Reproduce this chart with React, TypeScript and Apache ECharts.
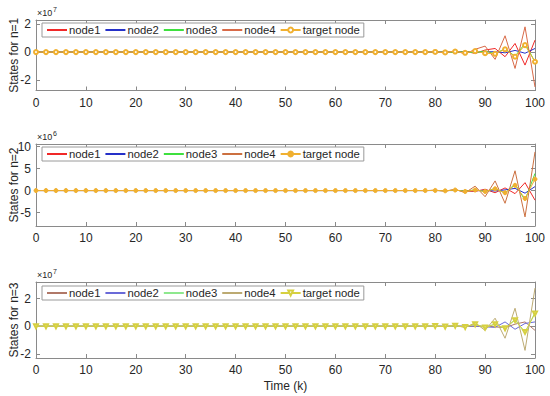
import React, { useEffect, useRef } from "react";
import * as echarts from "echarts";

// time steps k = 0, 2, ..., 100
const K = [
  0, 2, 4, 6, 8, 10, 12, 14, 16, 18, 20, 22, 24, 26, 28, 30, 32, 34, 36, 38,
  40, 42, 44, 46, 48, 50, 52, 54, 56, 58, 60, 62, 64, 66, 68, 70, 72, 74, 76,
  78, 80, 82, 84, 86, 88, 90, 92, 94, 96, 98, 100,
];

// subplot 1 (x1e7)
const n1_1 = [0,0,0,0,0,0,0,0,0,0, 0,0,0,0,0,0,0,0,0,0, 0,0,0,0,0,0,0,0,0,0, 0,0,0,0,0,0,0,0,
  0, 0.01, -0.02, 0.03, -0.05, 0.07, -0.1, 0.15, 0.26, -0.33, 0.62, -0.93, 0.86];
const n2_1 = [0,0,0,0,0,0,0,0,0,0, 0,0,0,0,0,0,0,0,0,0, 0,0,0,0,0,0,0,0,0,0, 0,0,0,0,0,0,0,0,
  0, 0, 0, 0, 0, 0.01, -0.01, 0.02, 0.03, -0.05, 0.12, -0.08, 0.26];
const n3_1 = [0,0,0,0,0,0,0,0,0,0, 0,0,0,0,0,0,0,0,0,0, 0,0,0,0,0,0,0,0,0,0, 0,0,0,0,0,0,0,0,
  0, 0, 0.01, -0.01, -0.02, 0.03, -0.05, 0.08, -0.12, 0.25, -0.3, 0.62, -0.7];
const n4_1 = [0,0,0,0,0,0,0,0,0,0, 0,0,0,0,0,0,0,0,0,0, 0,0,0,0,0,0,0,0,0,0, 0,0,0,0,0,0,0,0,
  0.01, -0.02, 0.04, -0.07, 0.1, -0.14, 0.2, 0.43, -0.52, 1.17, -1.17, 1.81, -2.5];
const t_1 = [0,0,0,0,0,0,0,0,0,0, 0,0,0,0,0,0,0,0,0,0, 0,0,0,0,0,0,0,0,0,0, 0,0,0,0,0,0,0,0,
  0, 0, 0.01, -0.02, 0.04, -0.05, 0.07, -0.08, -0.12, 0.2, -0.33, 0.5, -0.69];

// subplot 2 (x1e6)
const n1_2 = [0,0,0,0,0,0,0,0,0,0, 0,0,0,0,0,0,0,0,0,0, 0,0,0,0,0,0,0,0,0,0, 0,0,0,0,0,0,0,0,
  0, 0, 0.02, -0.04, 0.08, -0.12, -0.2, 0.3, -0.5, 0.6, -0.7, 1.8, -2.2];
const n2_2 = [0,0,0,0,0,0,0,0,0,0, 0,0,0,0,0,0,0,0,0,0, 0,0,0,0,0,0,0,0,0,0, 0,0,0,0,0,0,0,0,
  0, 0, 0, 0, 0, 0.02, -0.04, 0.06, -0.1, 0.15, 0.5, -0.6, 0.9];
const n3_2 = [0,0,0,0,0,0,0,0,0,0, 0,0,0,0,0,0,0,0,0,0, 0,0,0,0,0,0,0,0,0,0, 0,0,0,0,0,0,0,0,
  0, 0, 0.02, -0.04, 0.08, -0.12, 0.15, -0.25, 0.5, -0.6, 1.5, -2.2, 3.9];
const n4_2 = [0,0,0,0,0,0,0,0,0,0, 0,0,0,0,0,0,0,0,0,0, 0,0,0,0,0,0,0,0,0,0, 0,0,0,0,0,0,0,0,
  0.02, -0.04, 0.1, -0.15, 0.3, -0.5, 1.0, -1.4, 2.2, -2.9, 4.5, -6.0, 8.8];
const t_2 = [0,0,0,0,0,0,0,0,0,0, 0,0,0,0,0,0,0,0,0,0, 0,0,0,0,0,0,0,0,0,0, 0,0,0,0,0,0,0,0,
  0, 0.01, 0.03, -0.06, 0.12, -0.2, 0.12, -0.2, 0.4, -0.5, 1.2, -1.8, 2.6];

// subplot 3 (x1e7)
const n1_3 = [0,0,0,0,0,0,0,0,0,0, 0,0,0,0,0,0,0,0,0,0, 0,0,0,0,0,0,0,0,0,0, 0,0,0,0,0,0,0,0,
  0, 0, 0, 0, 0, 0.01, -0.02, 0.03, -0.05, -0.1, 0.15, 0.31, -0.3];
const n2_3 = [0,0,0,0,0,0,0,0,0,0, 0,0,0,0,0,0,0,0,0,0, 0,0,0,0,0,0,0,0,0,0, 0,0,0,0,0,0,0,0,
  0, 0, 0, 0, 0, 0, 0.02, -0.05, -0.08, 0.31, -0.22, 0.2, 0.31];
const n3_3 = [0,0,0,0,0,0,0,0,0,0, 0,0,0,0,0,0,0,0,0,0, 0,0,0,0,0,0,0,0,0,0, 0,0,0,0,0,0,0,0,
  0, 0, 0.01, -0.02, 0.03, -0.04, 0.15, -0.1, 0.17, -0.18, 0.5, -0.5, 1.0];
const n4_3 = [0,0,0,0,0,0,0,0,0,0, 0,0,0,0,0,0,0,0,0,0, 0,0,0,0,0,0,0,0,0,0, 0,0,0,0,0,0,0,0,
  0, 0, 0.01, -0.03, 0.06, -0.1, 0.24, -0.3, 0.58, -0.87, 1.3, -1.75, 2.76];
const t_3 = [0,0,0,0,0,0,0,0,0,0, 0,0,0,0,0,0,0,0,0,0, 0,0,0,0,0,0,0,0,0,0, 0,0,0,0,0,0,0,0,
  0, 0, 0.01, -0.02, 0.04, -0.05, 0.15, -0.1, 0.15, -0.15, 0.44, -0.41, 0.92];

const SERIES_NAMES = ["node1", "node2", "node3", "node4", "target node"];
const Y_TICKS = [[-2, 0, 2], [-5, 0, 5, 10], [-2, 0, 2]];
const Y_RANGE = [[-2.75, 2.3], [-8.07, 10.6], [-2.3, 3.2]];
const Y_NAMES = ["States for n=1", "States for n=2", "States for n=3"];
const EXPONENTS = ["7", "6", "7"];
const X_NAME = "Time (k)";

const DATA = [
  [n1_1, n2_1, n3_1, n4_1, t_1],
  [n1_2, n2_2, n3_2, n4_2, t_2],
  [n1_3, n2_3, n3_3, n4_3, t_3],
];

const COLORS = [
  ["#f02828", "#2530c8", "#3ee03e", "#d86a48", "#f0b030"],
  ["#f02828", "#2530c8", "#3ee03e", "#cc7040", "#f0b030"],
  ["#b07868", "#6a6ad8", "#8ee88e", "#bcaa72", "#d6d040"],
];
const MARKERS = [
  { symbol: "emptyCircle", size: 4, rotate: 0 },
  { symbol: "circle", size: 4, rotate: 0 },
  { symbol: "emptyTriangle", size: 4, rotate: 180 },
];

const FONT = "'Liberation Sans', Arial, Helvetica, sans-serif";
const TXT = "#262626";
const AX = "#8a8a8a";

const GRIDS = [
  { left: 36, top: 20, width: 499, height: 70.5 },
  { left: 36, top: 144, width: 499, height: 82 },
  { left: 36, top: 282, width: 499, height: 76 },
];
const LEGEND_TOP = [23, 147, 286];

export default function App() {
  const ref = useRef<HTMLDivElement>(null);
  useEffect(() => {
    if (!ref.current) return;
    const chart = echarts.init(ref.current, null, { renderer: "svg" });

    const xAxis: any[] = [];
    const yAxis: any[] = [];
    const series: any[] = [];
    const legend: any[] = [];
    const graphic: any[] = [];

    GRIDS.forEach((g, i) => {
      xAxis.push({
        type: "value", gridIndex: i, min: 0, max: 100, interval: 10, position: "bottom",
        axisLine: { show: true, onZero: false, lineStyle: { color: AX, width: 1 } },
        axisTick: { show: true, inside: true, length: 4, lineStyle: { color: AX } },
        axisLabel: { show: true, color: TXT, fontSize: 12, fontFamily: FONT, margin: 6 },
        splitLine: { show: false },
        ...(i === 2 ? { name: X_NAME, nameLocation: "middle", nameGap: 22, nameMoveOverlap: false,
          nameTextStyle: { color: TXT, fontSize: 12, fontFamily: FONT } } : {}),
      });
      xAxis.push({
        type: "value", gridIndex: i, min: 0, max: 100, interval: 10, position: "top",
        axisLine: { show: true, onZero: false, lineStyle: { color: AX, width: 1 } },
        axisTick: { show: true, inside: true, length: 4, lineStyle: { color: AX } },
        axisLabel: { show: false },
        splitLine: { show: false },
      });
      yAxis.push({
        type: "value", gridIndex: i, min: Y_RANGE[i][0], max: Y_RANGE[i][1], position: "left",
        axisLine: { show: true, onZero: false, lineStyle: { color: AX, width: 1 } },
        axisTick: { show: true, inside: true, length: 4, customValues: Y_TICKS[i], lineStyle: { color: AX } },
        axisLabel: { show: true, customValues: Y_TICKS[i], color: TXT, fontSize: 12, fontFamily: FONT, margin: 5 },
        splitLine: { show: false },
        name: Y_NAMES[i], nameLocation: "middle", nameGap: 16, nameRotate: 90, nameMoveOverlap: false,
        nameTextStyle: { color: TXT, fontSize: 12, fontFamily: FONT },
      });
      yAxis.push({
        type: "value", gridIndex: i, min: Y_RANGE[i][0], max: Y_RANGE[i][1], position: "right",
        axisLine: { show: true, onZero: false, lineStyle: { color: AX, width: 1 } },
        axisTick: { show: true, inside: true, length: 4, customValues: Y_TICKS[i], lineStyle: { color: AX } },
        axisLabel: { show: false },
        splitLine: { show: false },
      });

      const items: any[] = [];
      DATA[i].forEach((arr, j) => {
        const nm = SERIES_NAMES[j] + "#" + i;
        const isTarget = j === 4;
        items.push(isTarget ? { name: nm } : { name: nm, itemStyle: { opacity: 0 } });
        series.push({
          type: "line", name: nm, xAxisIndex: 2 * i, yAxisIndex: 2 * i,
          data: K.map((k, idx) => [k, arr[idx]]),
          showSymbol: isTarget, symbol: isTarget ? MARKERS[i].symbol : "none",
          symbolSize: MARKERS[i].size, symbolRotate: MARKERS[i].rotate,
          lineStyle: { color: COLORS[i][j], width: 1 },
          itemStyle: { color: COLORS[i][j], borderColor: COLORS[i][j], borderWidth: 1 },
          z: 2 + j, silent: true,
        });
      });
      legend.push({
        data: items, left: 42, top: LEGEND_TOP[i], orient: "horizontal",
        itemWidth: 20, itemHeight: 6, itemGap: 4,
        padding: [1.5, 4, 1.5, 4], backgroundColor: "#fff",
        borderColor: "#9a9a9a", borderWidth: 1, borderRadius: 0,
        formatter: (n: string) => n.split("#")[0],
        textStyle: { color: TXT, fontSize: 11.3, fontFamily: FONT, padding: [0, 0, 0, -3] },
        selectedMode: false,
      });

      graphic.push({
        type: "text", left: 37, top: g.top - 12,
        style: { text: "×10", fill: TXT, fontSize: 9, fontFamily: FONT },
      });
      graphic.push({
        type: "text", left: 53, top: g.top - 14,
        style: { text: EXPONENTS[i], fill: TXT, fontSize: 7, fontFamily: FONT },
      });
    });

    chart.setOption({
      animation: false,
      backgroundColor: "#fff",
      grid: GRIDS.map((g) => ({ ...g, containLabel: false, outerBoundsMode: "none" })),
      xAxis, yAxis, series, legend, graphic,
    });
    return () => chart.dispose();
  }, []);
  return (
    <div
      ref={ref}
      style={{ position: "fixed", left: 0, top: 0, width: 550, height: 396 }}
    />
  );
}
